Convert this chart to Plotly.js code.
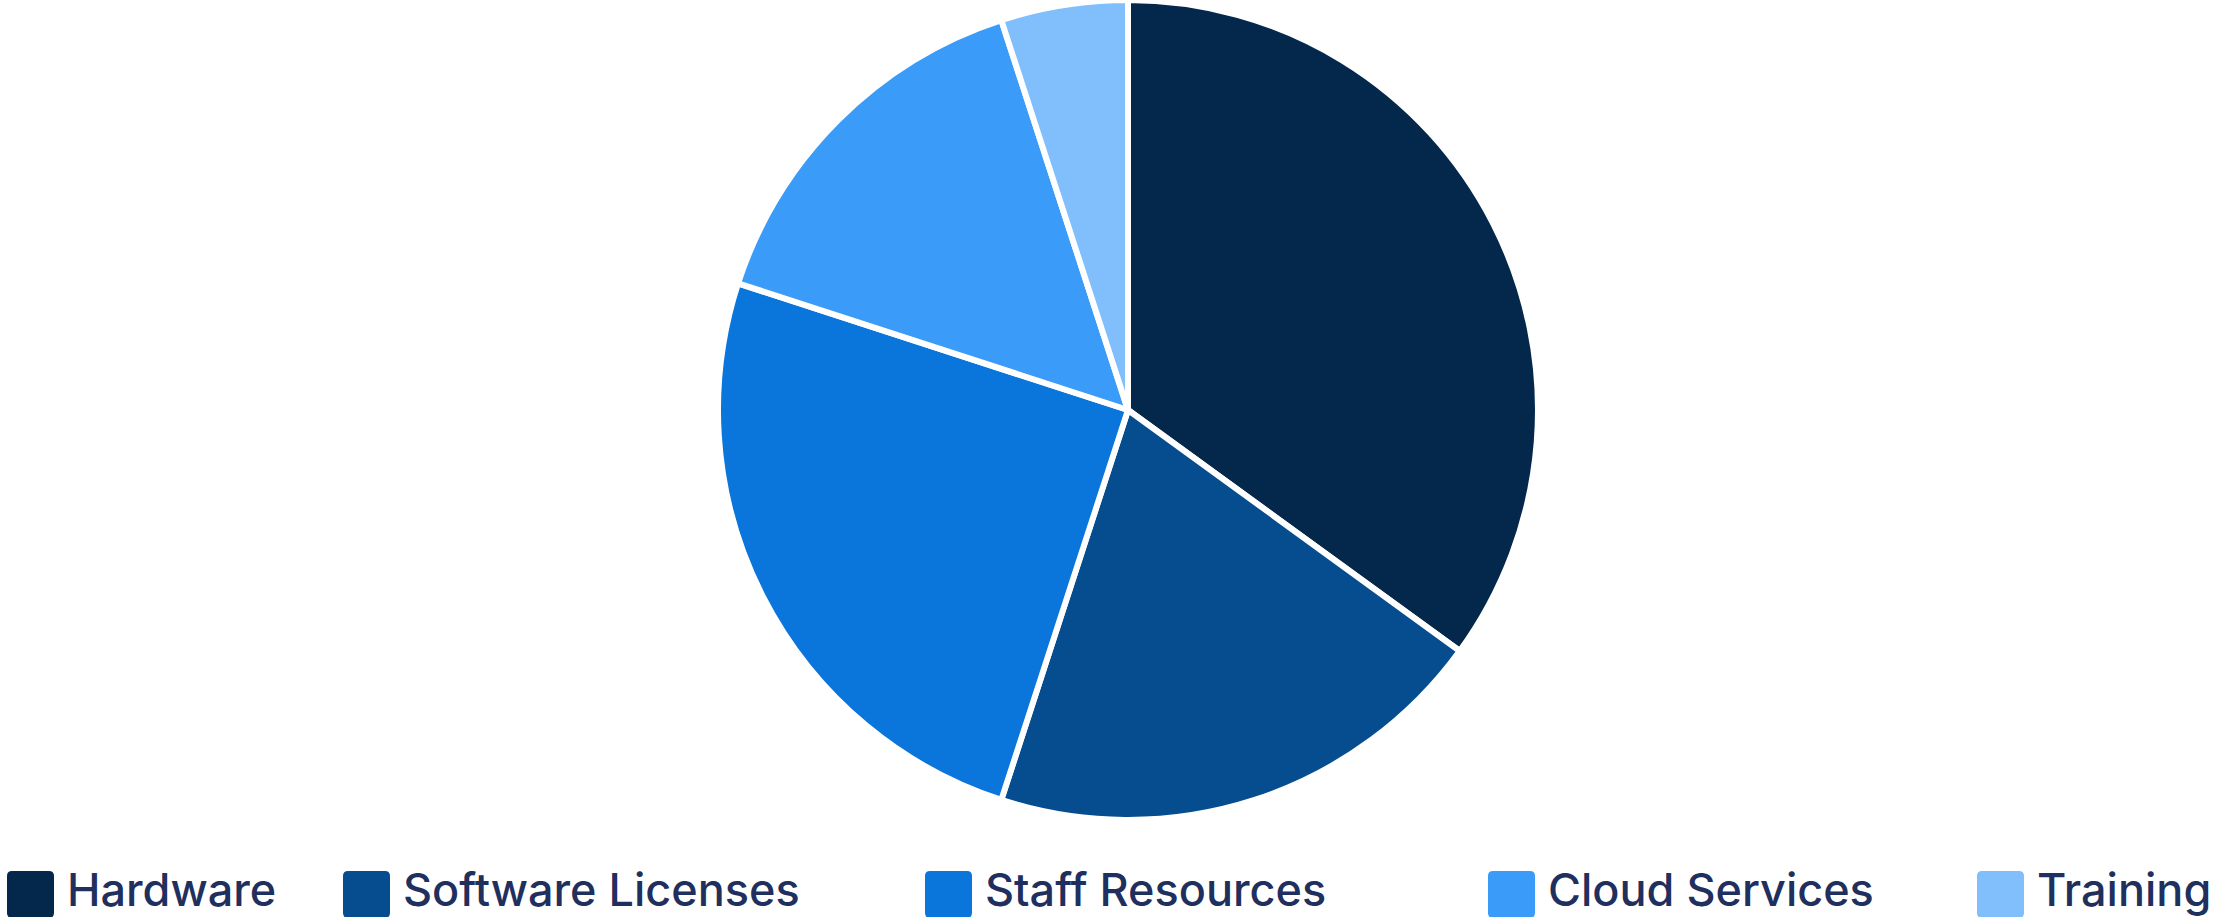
<!DOCTYPE html>
<html>
<head>
<meta charset="utf-8">
<script src="https://cdn.plot.ly/plotly-3.0.1.min.js"></script>
<style>
  html, body { margin: 0; padding: 0; background: #ffffff; overflow: hidden; }
  #chart { width: 2217px; height: 917px; }
</style>
</head>
<body>
<div id="chart"></div>
<script>
// ---- data ----
const categories = ["Hardware", "Software Licenses", "Staff Resources", "Cloud Services", "Training"];
const budgetShare = [35, 20, 25, 15, 5];
const sliceColors = ["#03284c", "#064d90", "#0a75da", "#3a9bf8", "#80befc"];

// ---- layout constants ----
const W = 2217, H = 917;
const cx = 1128, cy = 410, r = 410;
const legendStarts = [7, 343, 925, 1488, 1977];   // px left of each legend swatch
const swatch = 47, swatchTop = 871, textGap = 11;
const textColor = "#1f2f5e";

const px2x = p => p / W;
const px2y = p => 1 - p / H;

const trace = {
  type: "pie",
  labels: categories,
  values: budgetShare,
  sort: false,
  direction: "clockwise",
  rotation: 0,
  textinfo: "none",
  hoverinfo: "label+percent",
  marker: { colors: sliceColors, line: { color: "#ffffff", width: 6 } },
  domain: { x: [px2x(cx - r), px2x(cx + r)], y: [px2y(cy + r), px2y(cy - r)] },
  showlegend: false
};

// rounded rectangle in pixel units, converted to paper fractions
function roundedRect(x0, y0, w, h, rad) {
  const x1 = x0 + w, y1 = y0 + h;
  const P = (x, y) => `${px2x(x).toFixed(6)},${px2y(y).toFixed(6)}`;
  return `M${P(x0 + rad, y0)} L${P(x1 - rad, y0)} Q${P(x1, y0)} ${P(x1, y0 + rad)} ` +
         `L${P(x1, y1 - rad)} Q${P(x1, y1)} ${P(x1 - rad, y1)} L${P(x0 + rad, y1)} ` +
         `Q${P(x0, y1)} ${P(x0, y1 - rad)} L${P(x0, y0 + rad)} Q${P(x0, y0)} ${P(x0 + rad, y0)} Z`;
}

const shapes = categories.map((c, i) => ({
  type: "path",
  xref: "paper", yref: "paper",
  path: roundedRect(legendStarts[i], swatchTop, swatch, swatch, 5),
  fillcolor: sliceColors[i],
  line: { width: 0 },
  layer: "above"
}));

const annotations = categories.map((c, i) => ({
  xref: "paper", yref: "paper",
  x: px2x(legendStarts[i] + swatch + textGap),
  y: px2y(889),
  xanchor: "left", yanchor: "middle",
  text: c,
  showarrow: false,
  font: { family: "Inter, 'Noto Sans', sans-serif", size: 45, weight: 500, color: textColor }
}));

const layout = {
  width: W, height: H,
  margin: { l: 0, r: 0, t: 0, b: 0 },
  paper_bgcolor: "#ffffff",
  plot_bgcolor: "#ffffff",
  showlegend: false,
  shapes: shapes,
  annotations: annotations
};

Plotly.newPlot("chart", [trace], layout, { displayModeBar: false });
</script>
</body>
</html>
